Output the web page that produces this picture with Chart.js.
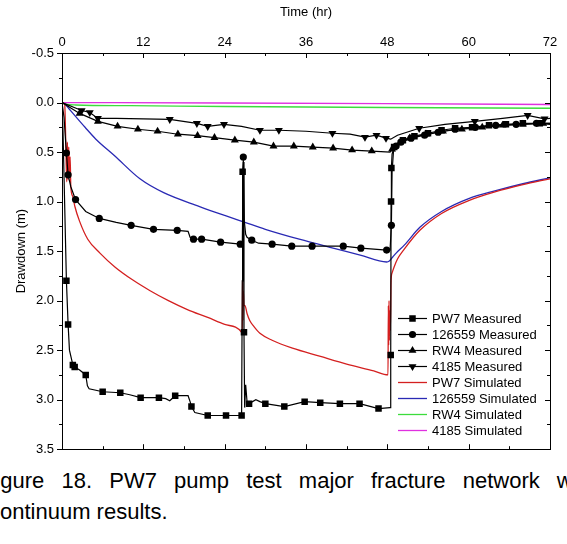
<!DOCTYPE html>
<html lang="en">
<head>
    <meta charset="UTF-8">
    <title>PW7 pump test drawdown</title>
    <style>
        body {
            margin: 0;
            padding: 0;
            background: #fff;
            font-family: Arial, "Liberation Sans", sans-serif;
            width: 567px;
            height: 544px;
            overflow: hidden;
            position: relative;
        }

        .chart-box {
            position: absolute;
            left: 0;
            top: 0;
            width: 567px;
            height: 465px;
        }

        .caption {
            position: absolute;
            font-size: 22px;
            line-height: 31px;
            color: #000;
            white-space: nowrap;
        }

        .caption .l1 {
            position: absolute;
            left: -18px;
            top: 0;
            width: 614px;
            text-align: justify;
            text-align-last: justify;
        }

        .caption .l2 {
            position: absolute;
            left: -11px;
            top: 31px;
        }
    </style>
    <script src="https://cdn.jsdelivr.net/npm/chart.js"></script>
</head>
<body>
    <div class="chart-box">
        <canvas id="drawdownChart"></canvas>
    </div>
    <div class="caption" style="left:0; top:465px; width:567px; height:70px;">
        <div class="l1">Figure 18. PW7 pump test major fracture network with</div>
        <div class="l2">continuum results.</div>
    </div>

    <script>
        // Axis ticks
        const timeTicks = [0, 12, 24, 36, 48, 60, 72];
        const drawdownTicks = [-0.5, 0.0, 0.5, 1.0, 1.5, 2.0, 2.5, 3.0, 3.5];

        // PW7 measured (hr, m, marker flag)
        const pw7MeasT  = [0, 0.15, 0.65, 0.9, 1.1, 1.6, 1.87, 2.6, 3.5, 3.75, 4.0, 6.0, 8.6, 10, 11.6, 14.3, 15.3, 15.9, 16.7, 18.6, 18.9, 19.1, 19.6, 21.5, 24.2, 26.5, 26.6, 26.65, 26.75, 26.85, 26.95, 27.1, 27.3, 27.6, 28.6, 29.2, 30, 32.8, 35.8, 38.1, 41, 43.9, 46.7, 48.4, 48.5, 48.55, 48.6, 48.7, 49.0, 49.6, 50.3, 52, 54, 56, 58, 60.5, 63, 65.5, 68, 70.5, 72];
        const pw7MeasD  = [0, 0.3, 1.80, 2.24, 2.5, 2.65, 2.67, 2.7, 2.75, 2.86, 2.89, 2.92, 2.93, 2.95, 2.98, 2.98, 2.99, 3.01, 2.96, 2.96, 3.02, 3.07, 3.13, 3.16, 3.16, 3.16, 1.8, 0.70, 0.6, 2.32, 3.08, 2.85, 3.02, 3.04, 3.0, 3.02, 3.04, 3.07, 3.02, 3.03, 3.04, 3.04, 3.09, 3.08, 2.55, 1.0, 0.66, 0.52, 0.45, 0.41, 0.38, 0.34, 0.31, 0.28, 0.26, 0.25, 0.23, 0.22, 0.21, 0.21, 0.22];
        const pw7MeasMk = [0, 0, 1, 1, 0, 1, 1, 0, 1, 0, 0, 1, 1, 0, 1, 1, 0, 0, 1, 0, 0, 1, 0, 1, 1, 1, 0, 1, 0, 1, 0, 0, 0, 1, 0, 0, 1, 1, 1, 1, 1, 1, 1, 0, 1, 1, 1, 0, 1, 0, 1, 1, 1, 1, 1, 1, 1, 1, 1, 1, 0];

        // 126559 measured
        const obsMeasT  = [0, 0.3, 0.65, 0.9, 1.3, 2.0, 3.5, 5.5, 8, 10.2, 13.5, 17, 18.6, 18.9, 19.4, 20.6, 23.4, 26.3, 26.6, 26.75, 26.9, 27.1, 27.3, 28, 29, 31, 33.9, 36.9, 39, 41.5, 44.1, 47.9, 48.4, 48.6, 48.7, 48.9, 49.3, 50, 51.5, 53.5, 55.5, 58, 61, 64, 67, 70, 72];
        const obsMeasD  = [0, 0.15, 0.51, 0.73, 0.85, 0.98, 1.1, 1.17, 1.21, 1.24, 1.28, 1.29, 1.3, 1.36, 1.38, 1.38, 1.41, 1.43, 1.43, 0.55, 1.2, 1.33, 1.36, 1.39, 1.42, 1.43, 1.45, 1.45, 1.45, 1.45, 1.47, 1.49, 1.49, 1.24, 0.7, 0.5, 0.44, 0.4, 0.36, 0.33, 0.3, 0.27, 0.25, 0.23, 0.22, 0.21, 0.21];
        const obsMeasMk = [0, 0, 1, 1, 0, 1, 0, 1, 0, 1, 1, 1, 0, 0, 1, 1, 1, 1, 0, 1, 0, 0, 0, 1, 0, 1, 1, 1, 0, 1, 1, 1, 0, 1, 0, 0, 1, 1, 1, 1, 1, 1, 1, 1, 1, 1, 0];

        // RW4 measured
        const rw4MeasT  = [0, 2.6, 5.3, 8.2, 11.2, 14.1, 17.1, 20, 22.5, 25.5, 28.3, 31.2, 34.2, 37, 40, 42.8, 45.7, 48.4, 48.7, 49.2, 51.3, 53.7, 56.2, 59, 62, 65, 68, 71, 72];
        const rw4MeasD  = [0, 0.11, 0.19, 0.24, 0.27, 0.29, 0.32, 0.335, 0.355, 0.38, 0.40, 0.44, 0.44, 0.45, 0.46, 0.48, 0.49, 0.5, 0.47, 0.42, 0.36, 0.32, 0.29, 0.27, 0.25, 0.23, 0.22, 0.21, 0.21];
        const rw4MeasMk = [0, 1, 1, 1, 1, 1, 1, 1, 1, 1, 1, 1, 1, 1, 1, 1, 1, 0, 1, 0, 1, 1, 1, 1, 1, 1, 1, 1, 0];

        // 4185 measured
        const w4185MeasT  = [0, 2.9, 4.1, 5.3, 8, 12, 15.9, 19.9, 21.5, 23.9, 26.5, 29.2, 32, 36, 39.9, 42.5, 44.7, 46.4, 47.8, 48.5, 49.5, 52.7, 56.5, 60.9, 65, 68.7, 71.2, 72];
        const w4185MeasD  = [0, 0.08, 0.10, 0.16, 0.16, 0.165, 0.17, 0.21, 0.24, 0.22, 0.24, 0.28, 0.28, 0.29, 0.31, 0.32, 0.35, 0.33, 0.36, 0.37, 0.33, 0.26, 0.22, 0.19, 0.16, 0.13, 0.165, 0.16];
        const w4185MeasMk = [0, 1, 1, 1, 0, 0, 1, 1, 1, 1, 0, 1, 1, 0, 1, 0, 1, 1, 1, 0, 0, 1, 0, 1, 0, 1, 1, 0];

        // PW7 simulated
        const pw7SimT = [0, 0.4, 0.55, 0.7, 0.8, 0.9, 1.0, 1.1, 1.2, 1.3, 1.6, 1.9, 2.6, 3.8, 5.6, 7.8, 10.4, 13, 15.7, 18.5, 21.5, 24, 26.5, 26.6, 26.65, 26.7, 26.75, 26.85, 27.0, 27.3, 27.7, 28.3, 29.2, 31, 34, 38, 42, 46, 48.1, 48.15, 48.2, 48.25, 48.3, 48.35, 48.45, 48.55, 48.7, 49, 49.5, 50.5, 52.8, 56, 60, 64, 68, 72];
        const pw7SimD = [0, 0.02, 0.38, 0.8, 0.4, 0.78, 0.45, 0.75, 0.55, 0.85, 0.95, 1.05, 1.2, 1.38, 1.52, 1.66, 1.79, 1.9, 2.0, 2.09, 2.17, 2.24, 2.32, 2.34, 1.66, 2.2, 1.9, 2.05, 2.05, 2.13, 2.2, 2.26, 2.33, 2.4, 2.48, 2.56, 2.64, 2.71, 2.75, 2.05, 2.45, 2.0, 2.4, 2.1, 2.3, 1.8, 1.72, 1.66, 1.58, 1.48, 1.29, 1.12, 0.99, 0.9, 0.83, 0.77];

        // 126559 simulated
        const obsSimT = [0, 0.5, 1, 2, 3.4, 5, 7.8, 11.5, 15, 20.3, 24, 27, 30, 35, 40, 44, 47.9, 48.3, 48.8, 49.3, 50.5, 52.8, 56, 60, 64, 68, 72];
        const obsSimD = [0, 0.02, 0.06, 0.14, 0.25, 0.37, 0.54, 0.77, 0.91, 1.05, 1.14, 1.21, 1.28, 1.38, 1.47, 1.54, 1.61, 1.6, 1.56, 1.52, 1.44, 1.26, 1.1, 0.97, 0.89, 0.82, 0.76];

        // RW4 and 4185 simulated
        const rw4SimT = [0, 0.5, 2, 10, 24, 48, 72];
        const rw4SimD = [0, 0.015, 0.025, 0.032, 0.04, 0.05, 0.058];
        const w4185SimT = [0, 24, 48, 72];
        const w4185SimD = [0, 0.005, 0.012, 0.02];

        const seriesLabels = ['PW7 Measured', '126559 Measured', 'RW4 Measured', '4185 Measured',
                              'PW7 Simulated', '126559 Simulated', 'RW4 Simulated', '4185 Simulated'];

        const FONT = 'Arial, "Liberation Sans", sans-serif';

        function pts(t, d) {
            return t.map((v, i) => ({ x: v, y: d[i] }));
        }

        function measured(label, t, d, mk, style, radius, rotation) {
            return {
                label: label,
                data: pts(t, d),
                borderColor: '#000',
                borderWidth: 1.2,
                backgroundColor: '#000',
                pointStyle: style,
                pointRotation: rotation || 0,
                pointRadius: mk.map(m => m ? radius : 0),
                pointBackgroundColor: '#000',
                pointBorderColor: '#000',
                pointBorderWidth: 0,
                tension: 0
            };
        }

        function simulated(label, t, d, color) {
            return {
                label: label,
                data: pts(t, d),
                borderColor: color,
                borderWidth: 1.3,
                pointRadius: 0,
                cubicInterpolationMode: 'monotone'
            };
        }

        // Frame with inward ticks on top/right/bottom, outward on the left
        const frameTicks = {
            id: 'frameTicks',
            afterDatasetsDraw(chart) {
                const { ctx, chartArea: a, scales: { x, y } } = chart;
                ctx.save();
                ctx.strokeStyle = '#000';
                ctx.lineWidth = 1;
                ctx.strokeRect(Math.round(a.left) + 0.5, Math.round(a.top) + 0.5,
                               Math.round(a.right - a.left), Math.round(a.bottom - a.top));
                ctx.beginPath();
                for (let t = 0; t <= 72; t += 6) {
                    const px = Math.round(x.getPixelForValue(t)) + 0.5;
                    const len = t % 12 === 0 ? 5 : 3;
                    ctx.moveTo(px, a.top); ctx.lineTo(px, a.top + len);
                    ctx.moveTo(px, a.bottom); ctx.lineTo(px, a.bottom - len);
                }
                for (let i = 0; i <= 16; i++) {
                    const v = -0.5 + i * 0.25;
                    const py = Math.round(y.getPixelForValue(v)) + 0.5;
                    const len = i % 2 === 0 ? 5 : 3;
                    ctx.moveTo(a.left, py); ctx.lineTo(a.left - len, py);
                    ctx.moveTo(a.right, py); ctx.lineTo(a.right - len, py);
                }
                ctx.stroke();
                ctx.restore();
            }
        };

        // Legend box inside the plot, lower right
        const insideLegend = {
            id: 'insideLegend',
            afterDraw(chart) {
                const { ctx, chartArea: a } = chart;
                const x0 = a.right - 152;
                const y0 = a.bottom - 131;
                ctx.save();
                ctx.font = '13px ' + FONT;
                ctx.textBaseline = 'middle';
                ctx.fillStyle = '#000';
                chart.data.datasets.forEach((ds, i) => {
                    const yy = Math.round(y0 + i * 16) + 0.5;
                    ctx.strokeStyle = ds.borderColor;
                    ctx.lineWidth = ds.borderWidth;
                    ctx.beginPath();
                    ctx.moveTo(x0, yy);
                    ctx.lineTo(x0 + 29, yy);
                    ctx.stroke();
                    if (ds.pointStyle && Chart.helpers && Chart.helpers.drawPoint) {
                        ctx.fillStyle = '#000';
                        Chart.helpers.drawPoint(ctx, {
                            pointStyle: ds.pointStyle,
                            rotation: ds.pointRotation,
                            radius: Math.max(...ds.pointRadius),
                            borderWidth: 0
                        }, x0 + 14.5, yy);
                    }
                    ctx.fillStyle = '#000';
                    ctx.fillText(seriesLabels[i], x0 + 34, yy + 1);
                });
                ctx.restore();
            }
        };

        const ctx = document.getElementById('drawdownChart').getContext('2d');

        const chart = new Chart(ctx, {
            type: 'line',
            data: {
                datasets: [
                    measured(seriesLabels[0], pw7MeasT, pw7MeasD, pw7MeasMk, 'rect', 4.6),
                    measured(seriesLabels[1], obsMeasT, obsMeasD, obsMeasMk, 'circle', 3.6),
                    measured(seriesLabels[2], rw4MeasT, rw4MeasD, rw4MeasMk, 'triangle', 4.6),
                    measured(seriesLabels[3], w4185MeasT, w4185MeasD, w4185MeasMk, 'triangle', 4.6, 180),
                    simulated(seriesLabels[4], pw7SimT, pw7SimD, '#d42020'),
                    simulated(seriesLabels[5], obsSimT, obsSimD, '#2a2ab4'),
                    simulated(seriesLabels[6], rw4SimT, rw4SimD, '#3cdc3c'),
                    simulated(seriesLabels[7], w4185SimT, w4185SimD, '#e030e0')
                ]
            },
            options: {
                responsive: true,
                maintainAspectRatio: false,
                animation: false,
                layout: { padding: { left: 0, right: 17, top: 0, bottom: 10 } },
                plugins: {
                    legend: { display: false },
                    tooltip: { enabled: false }
                },
                scales: {
                    x: {
                        type: 'linear',
                        position: 'top',
                        min: 0,
                        max: 72,
                        afterBuildTicks: s => { s.ticks = timeTicks.map(v => ({ value: v })); },
                        ticks: {
                            color: '#000',
                            font: { size: 13, family: FONT },
                            padding: 3,
                            maxRotation: 0
                        },
                        grid: { display: false, drawTicks: false },
                        border: { display: false },
                        title: {
                            display: true,
                            text: 'Time (hr)',
                            color: '#000',
                            font: { size: 13, family: FONT },
                            padding: { top: 5, bottom: 0 }
                        },
                        afterFit: s => { s.height = 53; }
                    },
                    y: {
                        type: 'linear',
                        reverse: true,
                        min: -0.5,
                        max: 3.5,
                        afterBuildTicks: s => { s.ticks = drawdownTicks.map(v => ({ value: v })); },
                        ticks: {
                            color: '#000',
                            font: { size: 13, family: FONT },
                            padding: 8,
                            callback: v => v.toFixed(1)
                        },
                        grid: { display: false, drawTicks: false },
                        border: { display: false },
                        title: {
                            display: true,
                            text: 'Drawdown (m)',
                            color: '#000',
                            font: { size: 13, family: FONT },
                            padding: { top: 14, bottom: 0 }
                        },
                        afterFit: s => { s.width = 62; }
                    }
                }
            },
            plugins: [frameTicks, insideLegend]
        });
    </script>
</body>
</html>
